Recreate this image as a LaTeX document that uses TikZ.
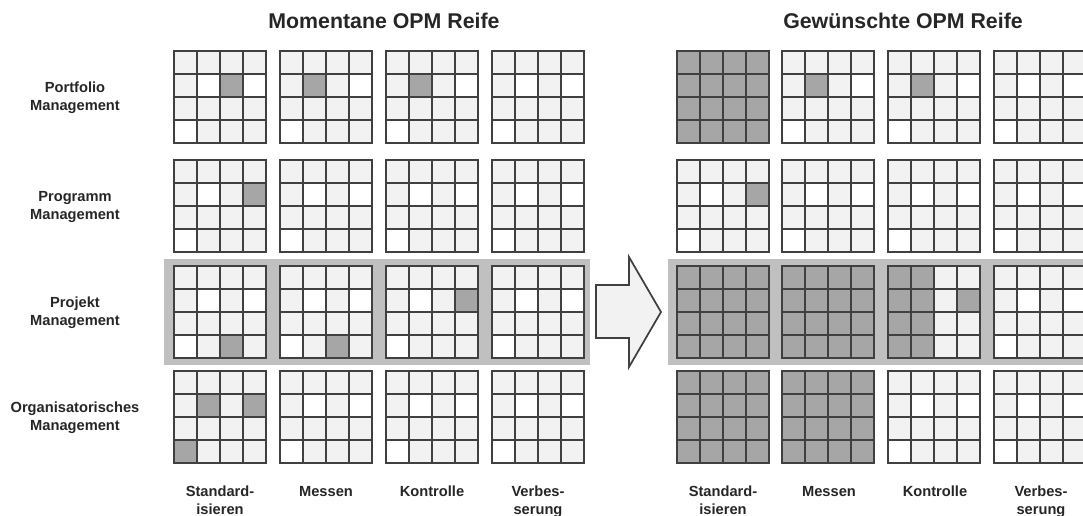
\documentclass[tikz,border=0pt]{standalone}
\usepackage{fontspec}
\setmainfont{Liberation Sans}
\definecolor{lightc}{HTML}{F2F2F2}
\definecolor{grayc}{HTML}{A6A6A6}
\definecolor{linec}{HTML}{404040}
\definecolor{bandc}{HTML}{C0C0C0}
\definecolor{textc}{HTML}{262626}
\tikzset{
  lbl/.style={font=\bfseries\fontsize{11}{13.5}\selectfont, align=center, text=textc, inner sep=0pt},
  ttl/.style={font=\bfseries\fontsize{16}{19}\selectfont, text=textc, inner sep=0pt},
  gline/.style={draw=linec, line width=1.5pt},
  band/.style={fill=bandc},
  shiftarrow/.style={draw=linec, fill=lightc, line width=1.3pt, line join=miter},
}
\newcommand\opmgrid[5]{%
  \fill[lightc] (#2,#3) rectangle ++(92,92);
  \foreach \r/\c in {2/2,2/4,4/1} \fill[white] ({#2+(\c-1)*23},{#3+(\r-1)*23}) rectangle ++(23,23);
  \ifnum#4>0 \fill[grayc] (#2,#3) rectangle ++({#4*23},92); \fi
  \foreach \r/\c in {#5} {\ifnum\r>0 \fill[grayc] ({#2+(\c-1)*23},{#3+(\r-1)*23}) rectangle ++(23,23);\fi}
  \foreach \i in {1,2,3} {\draw[gline] ({#2+\i*23},#3) -- ++(0,92); \draw[gline] (#2,{#3+\i*23}) -- ++(92,0);}
  \draw[gline] (#2,#3) rectangle ++(92,92);
  \coordinate (#1) at ({#2+46},{#3+46});
}
\begin{document}
\begin{tikzpicture}[x=0.75pt,y=-0.75pt]
\useasboundingbox (0,0) rectangle (1083,516);
\clip (0,0) rectangle (1083,516);
% titles
\node[ttl] (t1) at (384,21) {Momentane OPM Reife};
\node[ttl] (t2) at (903,21) {Gewünschte OPM Reife};
% bands
\fill[band] (164,259) rectangle (590,365);
\fill[band] (668,259) rectangle (1090,365);
% left grids
\opmgrid{L11}{174}{51}{0}{2/3}
\opmgrid{L12}{280}{51}{0}{2/2}
\opmgrid{L13}{386}{51}{0}{2/2}
\opmgrid{L14}{492}{51}{0}{0/0}
\opmgrid{L21}{174}{160}{0}{2/4}
\opmgrid{L22}{280}{160}{0}{0/0}
\opmgrid{L23}{386}{160}{0}{0/0}
\opmgrid{L24}{492}{160}{0}{0/0}
\opmgrid{L31}{174}{266}{0}{4/3}
\opmgrid{L32}{280}{266}{0}{4/3}
\opmgrid{L33}{386}{266}{0}{2/4}
\opmgrid{L34}{492}{266}{0}{0/0}
\opmgrid{L41}{174}{371}{0}{2/2,2/4,4/1}
\opmgrid{L42}{280}{371}{0}{0/0}
\opmgrid{L43}{386}{371}{0}{0/0}
\opmgrid{L44}{492}{371}{0}{0/0}
% right grids
\opmgrid{R11}{677}{51}{4}{0/0}
\opmgrid{R12}{782}{51}{0}{2/2}
\opmgrid{R13}{888}{51}{0}{2/2}
\opmgrid{R14}{994}{51}{0}{0/0}
\opmgrid{R21}{677}{160}{0}{2/4}
\opmgrid{R22}{782}{160}{0}{0/0}
\opmgrid{R23}{888}{160}{0}{0/0}
\opmgrid{R24}{994}{160}{0}{0/0}
\opmgrid{R31}{677}{266}{4}{0/0}
\opmgrid{R32}{782}{266}{4}{0/0}
\opmgrid{R33}{888}{266}{2}{2/4}
\opmgrid{R34}{994}{266}{0}{0/0}
\opmgrid{R41}{677}{371}{4}{0/0}
\opmgrid{R42}{782}{371}{4}{0/0}
\opmgrid{R43}{888}{371}{0}{0/0}
\opmgrid{R44}{994}{371}{0}{0/0}
% arrow
\draw[shiftarrow] (596,285) -- (629,285) -- (629,257) -- (661,312) -- (629,367) -- (629,338) -- (596,338) -- cycle;
% row labels
\node[lbl] (r1) at (75,98) {Portfolio\\Management};
\node[lbl] (r2) at (75,207) {Programm\\Management};
\node[lbl] (r3) at (75,313) {Projekt\\Management};
\node[lbl] (r4) at (75,418) {Organisatorisches\\Management};
% column labels
\foreach \p/\x in {L/0,R/503}{
  \node[lbl, anchor=north] (\p c1) at ({220+\x},486) {Standard-\\isieren};
  \node[lbl, anchor=north] (\p c2) at ({326+\x},486) {Messen};
  \node[lbl, anchor=north] (\p c3) at ({432+\x},486) {Kontrolle};
  \node[lbl, anchor=north] (\p c4) at ({538+\x},486) {Verbes-\\serung};
}
\end{tikzpicture}
\end{document}
